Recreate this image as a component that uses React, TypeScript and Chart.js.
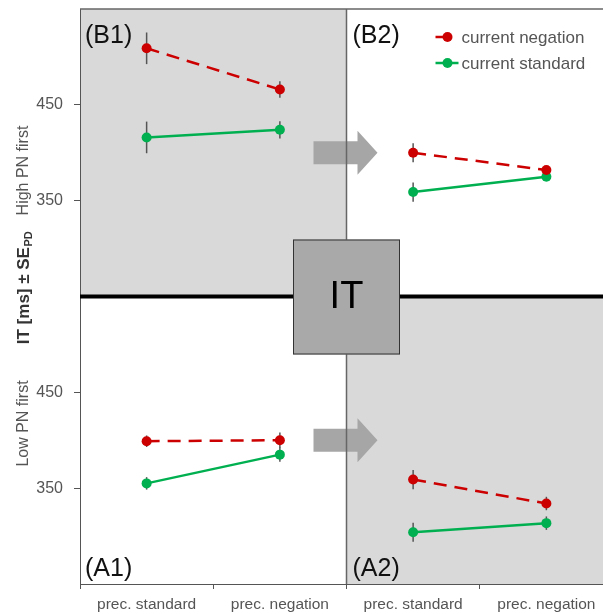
import React, { useEffect, useRef } from "react";
import { Chart, registerables } from "chart.js";

Chart.register(...registerables);

// ---------- data ----------
const conditions = ["prec. standard", "prec. negation"];
const yTickValues = [350, 450];

// (B1) High PN first, before IT
const b1Negation = [509, 466];
const b1NegationSE = [16.5, 8.5];
const b1Standard = [416, 424];
const b1StandardSE = [16.5, 9];
// (B2) High PN first, after IT
const b2Negation = [400, 382];
const b2NegationSE = [10, 4];
const b2Standard = [359, 375];
const b2StandardSE = [10, 4];
// (A1) Low PN first, before IT
const a1Negation = [399, 400];
const a1NegationSE = [6, 8];
const a1Standard = [355, 385];
const a1StandardSE = [6.5, 7.5];
// (A2) Low PN first, after IT
const a2Negation = [359, 334];
const a2NegationSE = [10, 7];
const a2Standard = [304, 313.5];
const a2StandardSE = [10, 7];

const seriesNames = ["current negation", "current standard"];
const panelLabels = ["(B1)", "(B2)", "(A1)", "(A2)"];
const rowLabels = ["High PN first", "Low PN first"];
const centerLabel = "IT";

const RED = "#cc0000";
const GREEN = "#00b050";
const GREY_TXT = "#555555";
const FONT = '"Liberation Sans", Arial, Helvetica, sans-serif';

const panels = [
  { x: "xL", y: "yTop", neg: b1Negation, negSE: b1NegationSE, std: b1Standard, stdSE: b1StandardSE },
  { x: "xR", y: "yTop", neg: b2Negation, negSE: b2NegationSE, std: b2Standard, stdSE: b2StandardSE },
  { x: "xL", y: "yBot", neg: a1Negation, negSE: a1NegationSE, std: a1Standard, stdSE: a1StandardSE },
  { x: "xR", y: "yBot", neg: a2Negation, negSE: a2NegationSE, std: a2Standard, stdSE: a2StandardSE },
];

const overlayPlugin = {
  id: "overlay",
  beforeDraw(chart: any) {
    const { ctx } = chart;
    const { xL, xR, yTop, yBot } = chart.scales;
    ctx.save();
    ctx.fillStyle = "#ffffff";
    ctx.fillRect(0, 0, chart.width, chart.height);
    ctx.fillStyle = "#d9d9d9";
    ctx.fillRect(xL.left, yTop.top, xL.right - xL.left, yTop.bottom - yTop.top);
    ctx.fillRect(xR.left, yBot.top, xR.right - xR.left, yBot.bottom - yBot.top);
    ctx.restore();
  },
  beforeDatasetsDraw(chart: any) {
    const { ctx, chartArea } = chart;
    const { xR, yTop, yBot } = chart.scales;
    const sep = xR.left;
    ctx.save();
    // top border
    ctx.strokeStyle = "#666";
    ctx.lineWidth = 1.5;
    ctx.beginPath();
    ctx.moveTo(chartArea.left, chartArea.top);
    ctx.lineTo(chartArea.right, chartArea.top);
    ctx.stroke();
    // arrows
    ctx.fillStyle = "#a6a6a6";
    for (const s of [yTop, yBot]) {
      const cy = (s.top + s.bottom) / 2;
      ctx.beginPath();
      ctx.moveTo(sep - 33, cy - 11.5);
      ctx.lineTo(sep + 11, cy - 11.5);
      ctx.lineTo(sep + 11, cy - 22);
      ctx.lineTo(sep + 31, cy);
      ctx.lineTo(sep + 11, cy + 22);
      ctx.lineTo(sep + 11, cy + 11.5);
      ctx.lineTo(sep - 33, cy + 11.5);
      ctx.closePath();
      ctx.fill();
    }
    // separator
    ctx.strokeStyle = "#666";
    ctx.lineWidth = 1.5;
    ctx.beginPath();
    ctx.moveTo(sep, chartArea.top);
    ctx.lineTo(sep, chartArea.bottom);
    ctx.stroke();
    // thick middle line
    ctx.strokeStyle = "#000";
    ctx.lineWidth = 4;
    ctx.beginPath();
    ctx.moveTo(chartArea.left, yTop.bottom);
    ctx.lineTo(chartArea.right, yTop.bottom);
    ctx.stroke();
    // IT box
    const bw = 107, bh = 115;
    const bx = sep - bw / 2, by = yTop.bottom - bh / 2 + 0.5;
    ctx.fillStyle = "#a9a9a9";
    ctx.fillRect(bx, by, bw, bh);
    ctx.strokeStyle = "#333";
    ctx.lineWidth = 1;
    ctx.strokeRect(bx + 0.5, by + 0.5, bw - 1, bh - 1);
    ctx.fillStyle = "#000";
    ctx.font = `38px ${FONT}`;
    ctx.textAlign = "center";
    ctx.textBaseline = "middle";
    ctx.fillText(centerLabel, sep, by + bh / 2 + 1);
    // error bars
    ctx.strokeStyle = "#555";
    ctx.lineWidth = 1.5;
    chart.data.datasets.forEach((ds: any, i: number) => {
      const meta = chart.getDatasetMeta(i);
      const ys = chart.scales[ds.yAxisID];
      ds.data.forEach((d: any, j: number) => {
        const pt = meta.data[j];
        if (!pt) return;
        const se = ds.se[j];
        ctx.beginPath();
        ctx.moveTo(pt.x, ys.getPixelForValue(d.y + se));
        ctx.lineTo(pt.x, ys.getPixelForValue(d.y - se));
        ctx.stroke();
      });
    });
    ctx.restore();
  },
  afterDraw(chart: any) {
    const { ctx, chartArea } = chart;
    const { xL, xR, yTop, yBot } = chart.scales;
    ctx.save();
    // panel labels
    ctx.fillStyle = "#111";
    ctx.font = `25px ${FONT}`;
    ctx.textAlign = "left";
    ctx.textBaseline = "middle";
    ctx.fillText(panelLabels[0], xL.left + 5, yTop.top + 27);
    ctx.fillText(panelLabels[1], xR.left + 6, yTop.top + 27);
    ctx.fillText(panelLabels[2], xL.left + 5, yBot.bottom - 15);
    ctx.fillText(panelLabels[3], xR.left + 6, yBot.bottom - 15);
    // legend
    const lx = xR.left + 89;
    const rows = [
      { c: RED, y: chartArea.top + 28, l0: 0, l1: 12 },
      { c: GREEN, y: chartArea.top + 54, l0: 0, l1: 23 },
    ];
    rows.forEach((r, i) => {
      ctx.strokeStyle = r.c;
      ctx.lineWidth = 2.5;
      ctx.beginPath();
      ctx.moveTo(lx + r.l0, r.y);
      ctx.lineTo(lx + r.l1, r.y);
      ctx.stroke();
      ctx.fillStyle = r.c;
      ctx.beginPath();
      ctx.arc(lx + 12, r.y, 5, 0, Math.PI * 2);
      ctx.fill();
      ctx.fillStyle = GREY_TXT;
      ctx.font = `17px ${FONT}`;
      ctx.textAlign = "left";
      ctx.textBaseline = "middle";
      ctx.fillText(seriesNames[i], lx + 26, r.y + 1);
    });
    // y titles
    const tx = 24;
    const drawRot = (fn: () => void, cy: number) => {
      ctx.save();
      ctx.translate(tx, cy);
      ctx.rotate(-Math.PI / 2);
      fn();
      ctx.restore();
    };
    ctx.fillStyle = GREY_TXT;
    ctx.font = `16px ${FONT}`;
    ctx.textAlign = "center";
    ctx.textBaseline = "middle";
    drawRot(() => ctx.fillText(rowLabels[0], 0, 0), 170.5);
    drawRot(() => ctx.fillText(rowLabels[1], 0, 0), 423.5);
    drawRot(() => {
      ctx.fillStyle = "#333";
      ctx.font = `bold 17px ${FONT}`;
      const main = "IT [ms] ± SE";
      const wMain = ctx.measureText(main).width;
      ctx.font = `bold 11px ${FONT}`;
      const wSub = ctx.measureText("PD").width;
      const start = -(wMain + wSub) / 2;
      ctx.textAlign = "left";
      ctx.font = `bold 17px ${FONT}`;
      ctx.fillText(main, start, 0);
      ctx.font = `bold 11px ${FONT}`;
      ctx.fillText("PD", start + wMain + 0.5, 5);
    }, 288);
    ctx.restore();
  },
};

function yScale(weight: number) {
  return {
    type: "linear",
    position: "left",
    stack: "yst",
    stackWeight: 1,
    weight,
    min: 250,
    max: 550,
    afterBuildTicks: (s: any) => {
      s.ticks = yTickValues.map((v) => ({ value: v }));
    },
    afterFit: (s: any) => {
      s.width = 80;
      s.paddingTop = 0;
      s.paddingBottom = 0;
    },
    ticks: { color: GREY_TXT, font: { size: 16, family: FONT }, padding: 11 },
    grid: { drawOnChartArea: false, drawTicks: true, tickLength: 6, color: "#555", lineWidth: 1 },
    border: { display: true, color: "#555", width: 1 },
  };
}

function xScale(weight: number) {
  return {
    type: "category",
    labels: conditions,
    position: "bottom",
    stack: "xst",
    stackWeight: 1,
    weight,
    offset: true,
    afterFit: (s: any) => {
      s.height = 30;
      s.paddingLeft = 0;
      s.paddingRight = 0;
    },
    ticks: { color: GREY_TXT, font: { size: 15.5, family: FONT }, padding: 6, maxRotation: 0, autoSkip: false },
    grid: { offset: true, drawOnChartArea: false, drawTicks: true, tickLength: 5, color: "#555", lineWidth: 1 },
    border: { display: true, color: "#555", width: 1 },
  };
}

export default function App() {
  const ref = useRef<HTMLCanvasElement | null>(null);
  useEffect(() => {
    if (!ref.current) return;
    const datasets = panels.flatMap((p) => [
      {
        label: seriesNames[0],
        xAxisID: p.x,
        yAxisID: p.y,
        data: conditions.map((c, i) => ({ x: c, y: p.neg[i] })),
        se: p.negSE,
        borderColor: RED,
        backgroundColor: RED,
        borderWidth: 2.5,
        borderDash: [13, 8],
        pointRadius: 5,
        pointBorderWidth: 0,
        pointBackgroundColor: RED,
      },
      {
        label: seriesNames[1],
        xAxisID: p.x,
        yAxisID: p.y,
        data: conditions.map((c, i) => ({ x: c, y: p.std[i] })),
        se: p.stdSE,
        borderColor: GREEN,
        backgroundColor: GREEN,
        borderWidth: 2.5,
        pointRadius: 5,
        pointBorderWidth: 0,
        pointBackgroundColor: GREEN,
      },
    ]);
    const chart = new Chart(ref.current, {
      type: "line",
      data: { datasets } as any,
      options: {
        animation: false,
        responsive: false,
        devicePixelRatio: 1,
        layout: { padding: { top: 9, left: 0, right: 0, bottom: 0 } },
        plugins: { legend: { display: false }, tooltip: { enabled: false } },
        scales: {
          yTop: yScale(1),
          yBot: yScale(0),
          xL: xScale(0),
          xR: xScale(1),
        } as any,
      },
      plugins: [overlayPlugin],
    });
    return () => chart.destroy();
  }, []);
  return (
    <div
      style={{
        position: "fixed",
        left: 0,
        top: 0,
        width: 603,
        height: 614,
        overflow: "hidden",
        background: "#fff",
      }}
    >
      <canvas ref={ref} width={618} height={614} style={{ display: "block" }} />
    </div>
  );
}
